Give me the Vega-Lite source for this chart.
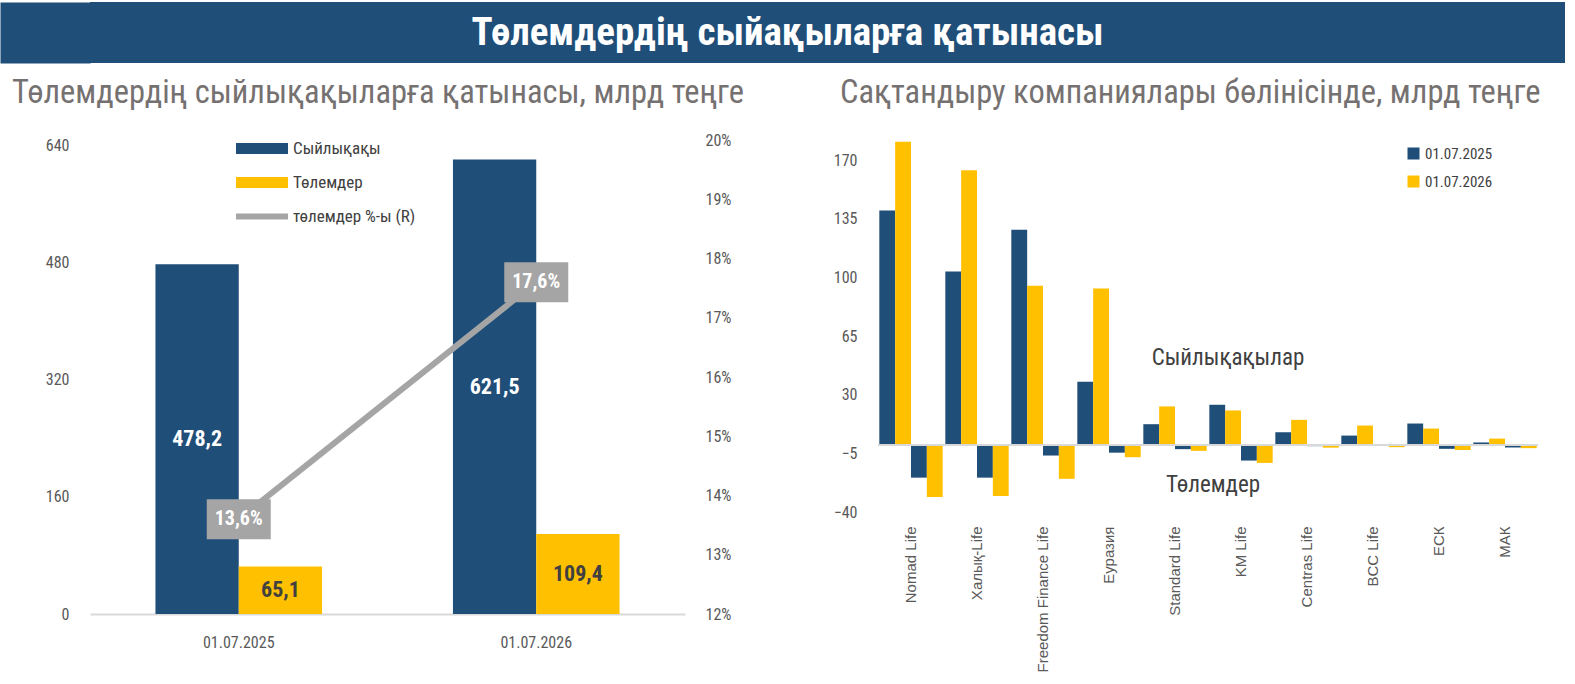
{
  "$schema": "https://vega.github.io/schema/vega-lite/v6.json",
  "padding": {"left": 0, "top": 2, "right": 0, "bottom": 0},
  "background": "white",
  "config": {
    "font": "Roboto Condensed, Liberation Sans Narrow, DejaVu Sans Condensed, sans-serif",
    "view": {"stroke": null},
    "locale": {"number": {"decimal": ",", "thousands": " ", "grouping": [3], "currency": ["", ""]}},
    "axis": {"grid": false, "ticks": false, "domain": false, "labelColor": "#595959", "labelFontSize": 16}
  },
  "datasets": {
    "left": [
      {"date": "01.07.2025", "type": "Сыйлықақы", "value": 478.2},
      {"date": "01.07.2025", "type": "Төлемдер", "value": 65.1},
      {"date": "01.07.2026", "type": "Сыйлықақы", "value": 621.5},
      {"date": "01.07.2026", "type": "Төлемдер", "value": 109.4}
    ],
    "ratio": [
      {"date": "01.07.2025", "pct": 0.136},
      {"date": "01.07.2026", "pct": 0.176}
    ],
    "notes": [
      {"company": "KM Life", "value": 52, "label": "Сыйлықақылар"},
      {"company": "Standard Life", "value": -24, "label": "Төлемдер"}
    ],
    "companies": [
      {"company": "Nomad Life", "series": "P2025", "year": "01.07.2025", "value": 140},
      {"company": "Nomad Life", "series": "P2026", "year": "01.07.2026", "value": 181},
      {"company": "Nomad Life", "series": "T2025", "year": "01.07.2025", "value": -19.5},
      {"company": "Nomad Life", "series": "T2026", "year": "01.07.2026", "value": -31},
      {"company": "Халық-Life", "series": "P2025", "year": "01.07.2025", "value": 103.5},
      {"company": "Халық-Life", "series": "P2026", "year": "01.07.2026", "value": 164},
      {"company": "Халық-Life", "series": "T2025", "year": "01.07.2025", "value": -19.5},
      {"company": "Халық-Life", "series": "T2026", "year": "01.07.2026", "value": -30.5},
      {"company": "Freedom Finance Life", "series": "P2025", "year": "01.07.2025", "value": 128.5},
      {"company": "Freedom Finance Life", "series": "P2026", "year": "01.07.2026", "value": 95},
      {"company": "Freedom Finance Life", "series": "T2025", "year": "01.07.2025", "value": -6.3},
      {"company": "Freedom Finance Life", "series": "T2026", "year": "01.07.2026", "value": -20.2},
      {"company": "Еуразия", "series": "P2025", "year": "01.07.2025", "value": 37.8},
      {"company": "Еуразия", "series": "P2026", "year": "01.07.2026", "value": 93.4},
      {"company": "Еуразия", "series": "T2025", "year": "01.07.2025", "value": -4.6},
      {"company": "Еуразия", "series": "T2026", "year": "01.07.2026", "value": -7.3},
      {"company": "Standard Life", "series": "P2025", "year": "01.07.2025", "value": 12.4},
      {"company": "Standard Life", "series": "P2026", "year": "01.07.2026", "value": 23},
      {"company": "Standard Life", "series": "T2025", "year": "01.07.2025", "value": -2.5},
      {"company": "Standard Life", "series": "T2026", "year": "01.07.2026", "value": -3.5},
      {"company": "KM Life", "series": "P2025", "year": "01.07.2025", "value": 24},
      {"company": "KM Life", "series": "P2026", "year": "01.07.2026", "value": 20.6},
      {"company": "KM Life", "series": "T2025", "year": "01.07.2025", "value": -9.3},
      {"company": "KM Life", "series": "T2026", "year": "01.07.2026", "value": -10.7},
      {"company": "Centras Life", "series": "P2025", "year": "01.07.2025", "value": 7.6},
      {"company": "Centras Life", "series": "P2026", "year": "01.07.2026", "value": 15},
      {"company": "Centras Life", "series": "T2025", "year": "01.07.2025", "value": -0.7},
      {"company": "Centras Life", "series": "T2026", "year": "01.07.2026", "value": -1.6},
      {"company": "BCC Life", "series": "P2025", "year": "01.07.2025", "value": 5.6},
      {"company": "BCC Life", "series": "P2026", "year": "01.07.2026", "value": 11.6},
      {"company": "BCC Life", "series": "T2025", "year": "01.07.2025", "value": -0.3},
      {"company": "BCC Life", "series": "T2026", "year": "01.07.2026", "value": -1.3},
      {"company": "ЕСК", "series": "P2025", "year": "01.07.2025", "value": 12.8},
      {"company": "ЕСК", "series": "P2026", "year": "01.07.2026", "value": 9.8},
      {"company": "ЕСК", "series": "T2025", "year": "01.07.2025", "value": -2.3},
      {"company": "ЕСК", "series": "T2026", "year": "01.07.2026", "value": -3},
      {"company": "МАК", "series": "P2025", "year": "01.07.2025", "value": 1.5},
      {"company": "МАК", "series": "P2026", "year": "01.07.2026", "value": 3.8},
      {"company": "МАК", "series": "T2025", "year": "01.07.2025", "value": -1.5},
      {"company": "МАК", "series": "T2026", "year": "01.07.2026", "value": -1.9}
    ]
  },
  "spacing": 13,
  "vconcat": [
    {
      "width": 1475,
      "height": 61,
      "view": {"fill": "#1F4E79", "stroke": null},
      "data": {"values": [{"t": "Төлемдердің сыйақыларға қатынасы"}]},
      "mark": {"type": "text", "color": "#ffffff", "fontSize": 39, "fontWeight": "bold", "align": "center", "baseline": "middle", "dx": -40},
      "encoding": {
        "text": {"field": "t", "type": "nominal"},
        "y": {"datum": 0.5, "type": "quantitative", "scale": {"domain": [0, 1], "nice": false}, "axis": {"orient": "left", "domain": true, "domainColor": "#1F4E79", "domainWidth": 90, "offset": 45, "labels": false, "ticks": false, "grid": false, "title": null}}
      }
    },
    {
      "spacing": 80,
      "resolve": {"scale": {"color": "independent", "xOffset": "independent"}, "legend": {"color": "independent"}},
      "hconcat": [
        {
          "width": 595,
          "height": 474,
          "title": {"text": "Төлемдердің сыйлықақыларға қатынасы, млрд теңге", "anchor": "start", "frame": "group", "dx": -78, "fontSize": 32.5, "fontWeight": "normal", "color": "#767171", "offset": -10, "baseline": "bottom"},
          "resolve": {"scale": {"y": "independent"}},
          "layer": [
            {
              "data": {"name": "left"},
              "encoding": {
                "x": {"field": "date", "type": "nominal", "scale": {"type": "band", "paddingInner": 0.44, "paddingOuter": 0.22}, "axis": {"title": null, "labelAngle": 0, "domain": true, "domainColor": "#D9D9D9", "domainWidth": 2, "labelPadding": 20, "labelFontSize": 16}},
                "xOffset": {"field": "type", "type": "nominal", "sort": ["Сыйлықақы", "Төлемдер"]},
                "y": {"field": "value", "type": "quantitative", "scale": {"domain": [0, 648], "nice": false}, "axis": {"title": null, "values": [0, 160, 320, 480, 640], "labelPadding": 21, "minExtent": 90}}
              },
              "layer": [
                {
                  "mark": {"type": "bar"},
                  "encoding": {
                    "color": {
                      "field": "type", "type": "nominal",
                      "scale": {"domain": ["Сыйлықақы", "Төлемдер", "төлемдер %-ы (R)"], "range": ["#1F4E79", "#FFC000", "#A5A5A5"]},
                      "legend": {
                        "title": null, "orient": "none", "legendX": 163.5, "legendY": 0, "direction": "vertical",
                        "symbolSize": 121, "symbolType": "M-4.73,-1H4.73V1H-4.73Z",
                        "labelFontSize": 17, "labelColor": "#404040", "labelOffset": 22.5, "labelLimit": 0, "rowPadding": 16,
                        "encode": {"symbols": {"update": {
                          "shape": {"signal": "datum.value === 'төлемдер %-ы (R)' ? 'M-4.73,-0.55H4.73V0.55H-4.73Z' : 'M-4.73,-1H4.73V1H-4.73Z'"},
                          "fill": {"signal": "datum.value === 'Сыйлықақы' ? '#1F4E79' : datum.value === 'Төлемдер' ? '#FFC000' : '#A5A5A5'"},
                          "stroke": {"value": "transparent"},
                          "strokeWidth": {"value": 0},
                          "opacity": {"value": 1}
                        }}}
                      }
                    }
                  }
                },
                {
                  "transform": [{"calculate": "datum.value / 2", "as": "mid"}],
                  "mark": {"type": "text", "fontSize": 22, "fontWeight": "bold", "baseline": "middle"},
                  "encoding": {
                    "y": {"field": "mid", "type": "quantitative"},
                    "text": {"field": "value", "type": "quantitative", "format": ".1f"},
                    "color": {"condition": {"test": "datum.type === 'Сыйлықақы'", "value": "#ffffff"}, "value": "#404040"}
                  }
                }
              ]
            },
            {
              "data": {"name": "ratio"},
              "encoding": {
                "x": {"field": "date", "type": "nominal"},
                "y": {"field": "pct", "type": "quantitative", "scale": {"domain": [0.12, 0.2], "nice": false, "zero": false}, "axis": {"title": null, "orient": "right", "format": ".0%", "values": [0.12, 0.13, 0.14, 0.15, 0.16, 0.17, 0.18, 0.19, 0.2], "labelPadding": 20, "minExtent": 63}}
              },
              "layer": [
                {"mark": {"type": "line", "strokeWidth": 6}, "encoding": {"color": {"datum": "төлемдер %-ы (R)", "type": "nominal"}}},
                {"mark": {"type": "point", "shape": "M-1,-0.625H1V0.625H-1Z", "size": 4096, "filled": true, "fill": "#A5A5A5", "opacity": 1, "strokeWidth": 0}},
                {"mark": {"type": "text", "color": "#ffffff", "fontSize": 20, "fontWeight": "bold", "baseline": "middle"}, "encoding": {"text": {"field": "pct", "type": "quantitative", "format": ".1%"}}}
              ]
            }
          ]
        },
        {
          "width": 660,
          "height": 372,
          "title": {"text": "Сақтандыру компаниялары бөлінісінде, млрд теңге", "anchor": "start", "frame": "group", "dx": -38, "fontSize": 32.5, "fontWeight": "normal", "color": "#767171", "offset": -2, "baseline": "bottom"},
          "encoding": {
            "x": {"field": "company", "type": "nominal", "sort": ["Nomad Life", "Халық-Life", "Freedom Finance Life", "Еуразия", "Standard Life", "KM Life", "Centras Life", "BCC Life", "ЕСК", "МАК"], "scale": {"type": "band", "paddingInner": 0.04, "paddingOuter": 0.02}, "axis": {"title": null, "labelAngle": -90, "labelPadding": 14, "labelFont": "Liberation Sans, Arial, sans-serif", "labelFontSize": 15}},
            "y": {"field": "value", "type": "quantitative", "scale": {"domain": [-40, 182], "nice": false, "zero": false}, "axis": {"title": null, "values": [-40, -5, 30, 65, 100, 135, 170], "labelPadding": 21, "minExtent": 50}}
          },
          "layer": [
            {
              "data": {"name": "companies"},
              "mark": {"type": "bar"},
              "encoding": {
                "xOffset": {"field": "series", "type": "nominal", "sort": ["P2025", "P2026", "T2025", "T2026"]},
                "color": {
                  "field": "year", "type": "nominal",
                  "scale": {"domain": ["01.07.2025", "01.07.2026"], "range": ["#1F4E79", "#FFC000"]},
                  "legend": {"title": null, "orient": "none", "legendX": 528, "legendY": 6, "direction": "vertical", "symbolType": "square", "symbolSize": 144, "symbolStrokeWidth": 0, "labelFontSize": 15, "labelColor": "#404040", "labelOffset": 4, "labelLimit": 0, "rowPadding": 12}
                }
              }
            },
            {"data": {"name": "notes"}, "transform": [{"filter": "datum.label === 'Сыйлықақылар'"}], "mark": {"type": "rule", "color": "#D9D9D9", "strokeWidth": 2}, "encoding": {"x": null, "y": {"datum": 0, "type": "quantitative"}}},
            {"data": {"name": "notes"}, "transform": [{"filter": "datum.label === 'Сыйлықақылар'"}], "mark": {"type": "text", "fontSize": 23, "color": "#404040", "baseline": "middle", "dx": -13}, "encoding": {"text": {"field": "label", "type": "nominal"}}},
            {"data": {"name": "notes"}, "transform": [{"filter": "datum.label === 'Төлемдер'"}], "mark": {"type": "text", "fontSize": 23, "color": "#404040", "baseline": "middle", "dx": 38}, "encoding": {"text": {"field": "label", "type": "nominal"}}}
          ]
        }
      ]
    }
  ]
}
